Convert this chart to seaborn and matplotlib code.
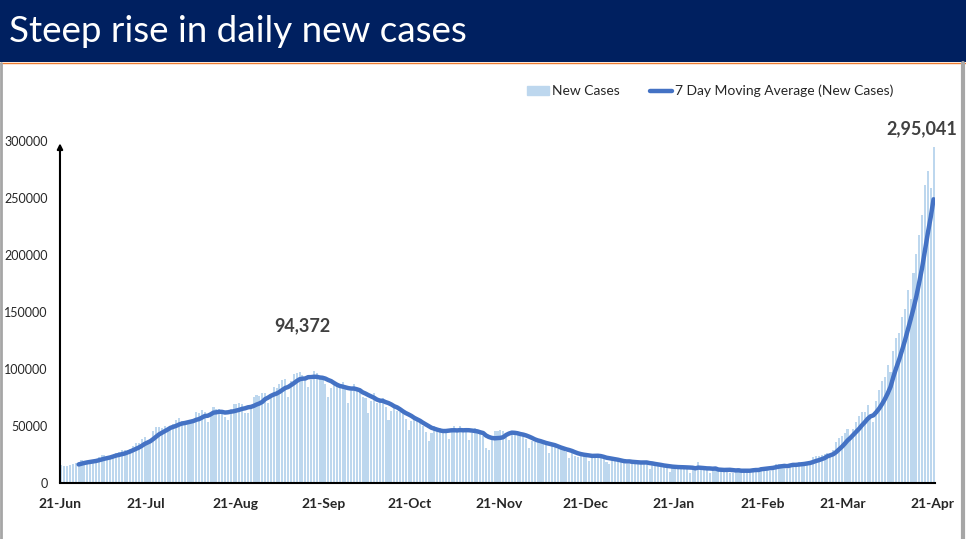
import numpy as np
import pandas as pd
import seaborn as sns
import matplotlib
matplotlib.use("Agg")
import matplotlib.pyplot as plt
from matplotlib.patches import Rectangle
from matplotlib.lines import Line2D

# Daily new cases, 21-Jun-2020 .. 21-Apr-2021
jun = [15413, 14821, 14933, 15968, 16922, 17296, 18552, 19906, 19459, 18522]
jul = [18653, 19148, 20903, 22771, 24850, 24248, 22252, 22752, 24879, 26506,
       27114, 28637, 28701, 28498, 29429, 32695, 34956, 34884, 38902, 40425,
       37148, 37724, 45720, 49310, 48916, 48661, 49931, 47703, 48513, 52123,
       55079]
aug = [57118, 54735, 52972, 52050, 52509, 56282, 62538, 61537, 64399, 62064,
       53601, 60963, 66999, 64553, 65002, 63490, 57981, 55079, 64531, 69652,
       68898, 69878, 69239, 61408, 60975, 67151, 75760, 77266, 76472, 78761,
       78512]
sep = [69921, 78357, 83883, 83341, 86432, 90632, 90802, 75809, 89706, 95735,
       96551, 97570, 94372, 92071, 83809, 90123, 97894, 96424, 93337, 92605,
       86961, 75083, 83347, 86508, 86052, 85362, 88600, 82170, 70589, 80472]
oct_ = [86821, 81484, 79476, 75829, 74442, 61267, 72049, 78524, 70496, 73272,
        74383, 66732, 55342, 63509, 67708, 63371, 62212, 61871, 55722, 46790,
        54044, 55838, 54366, 53370, 50129, 45148, 36470, 43893, 49881, 48648,
        48268]
nov = [46963, 45231, 38310, 46253, 50209, 47638, 50356, 45674, 45903, 38073,
       44281, 47905, 44878, 44684, 41100, 30548, 29164, 38617, 45576, 45882,
       46232, 45209, 44059, 37975, 44376, 44489, 43082, 41322, 41810, 38772]
dec = [31118, 36604, 35551, 36595, 36652, 36011, 32981, 26567, 32080, 31522,
       29398, 30006, 30254, 27071, 22065, 26382, 24010, 22890, 25153, 26624,
       24337, 19556, 23950, 24712, 23068, 23067, 22273, 18732, 16432, 20550,
       21822]
jan = [20035, 19078, 18177, 16504, 16375, 18088, 20346, 18139, 18222, 18645,
       16311, 12584, 15968, 16946, 15590, 15158, 15144, 13788, 10064, 13823,
       15223, 14545, 14256, 14849, 13203, 9102, 12689, 11666, 18855, 13083,
       13052]
feb = [11427, 8635, 11039, 12899, 12408, 11713, 12059, 11831, 9110, 9093,
       11067, 12923, 9309, 12194, 11649, 9121, 11610, 12881, 13193, 13993,
       14264, 14199, 10584, 13742, 16738, 16577, 16488, 16752]
mar = [12286, 14989, 17407, 16838, 18327, 18711, 18599, 15388, 17921, 22854,
       23285, 23285, 24882, 25320, 26291, 24492, 28903, 35871, 39726, 40953,
       43846, 46951, 40715, 47262, 53476, 59118, 62258, 62714, 68020, 56211,
       53480]
apr = [72330, 81466, 89129, 93249, 103558, 96982, 115736, 126789, 131968,
       145384, 152879, 168912, 161736, 184372, 200739, 217353, 234692, 261500,
       273810, 259170, 295041]

tick_labels = ["21-Jun", "21-Jul", "21-Aug", "21-Sep", "21-Oct", "21-Nov",
               "21-Dec", "21-Jan", "21-Feb", "21-Mar", "21-Apr"]
y_ticks = [0, 50000, 100000, 150000, 200000, 250000, 300000]

cases = jun + jul + aug + sep + oct_ + nov + dec + jan + feb + mar + apr
dates = pd.date_range("2020-06-21", periods=len(cases), freq="D")
df = pd.DataFrame({"date": dates, "cases": cases})
df["day"] = np.arange(len(df))
df["ma7"] = df["cases"].rolling(7).mean()

sns.set_style("white")
plt.rcParams["font.family"] = ["Lato", "DejaVu Sans"]

fig = plt.figure(figsize=(9.66, 5.39), dpi=100)
ax = fig.add_axes([0.0621, 0.1039, 0.9058, 0.6345])

# barres journalières
sns.barplot(data=df, x="day", y="cases", native_scale=True, color="#BDD7EE",
            saturation=1, width=0.72, linewidth=0, edgecolor="none", ax=ax,
            label="New Cases")
# moyenne mobile
sns.lineplot(data=df, x="day", y="ma7", color="#4472C4", linewidth=3.2,
             ax=ax, label="7 Day Moving Average (New Cases)")

ax.set_xlim(-0.5, len(df) - 0.5)
ax.set_ylim(0, 300000)
ax.set_xlabel("")
ax.set_ylabel("")

# ticks on the 21st of every month (left edge of the day slot)
tick_pos = [p - 0.5 for p in df.index[df["date"].dt.day == 21]]
ax.set_xticks(tick_pos)
ax.set_xticklabels(tick_labels, fontsize=10, fontweight="bold", color="#262626")
ax.set_yticks(y_ticks)
ax.set_yticklabels([str(v) for v in y_ticks], fontsize=9, color="#262626")
ax.tick_params(axis="x", direction="out", length=5, width=1.2, color="black", pad=6)
ax.tick_params(axis="y", length=0, pad=9)

for s in ["top", "right", "left"]:
    ax.spines[s].set_visible(False)
ax.spines["bottom"].set_color("black")
ax.spines["bottom"].set_linewidth(1.5)
ax.annotate("", xy=(-0.5, 298000), xytext=(-0.5, 0), xycoords="data",
            arrowprops=dict(arrowstyle="-|>", color="black", lw=1.5,
                            mutation_scale=8, shrinkA=0, shrinkB=0),
            annotation_clip=False)

# annotations
ax.text(84, 138000, "94,372", ha="center", va="center", fontsize=13,
        fontweight="bold", color="#404040")
ax.text(300, 310500, "2,95,041", ha="center", va="center", fontsize=13,
        fontweight="bold", color="#404040", clip_on=False)

# legend
if ax.get_legend():
    ax.get_legend().remove()
handles = [Rectangle((0, 0), 1, 1, color="#BDD7EE"),
           Line2D([0], [0], color="#4472C4", lw=3.2)]
fig.legend(handles, ["New Cases", "7 Day Moving Average (New Cases)"],
           loc="center", bbox_to_anchor=(0.735, 0.831), ncol=2, frameon=False,
           fontsize=10, handlelength=1.6, handleheight=0.6, columnspacing=2.2,
           handletextpad=0.2, labelcolor="#262626")

# title banner
fig.patches.append(Rectangle((0, 0.885), 1, 0.115, transform=fig.transFigure,
                             facecolor="#002060", edgecolor="none", zorder=0))
fig.add_artist(Line2D([0, 1], [0.884, 0.884], transform=fig.transFigure,
                      color="#ED7D31", lw=1))
fig.text(0.009, 0.941, "Steep rise in daily new cases", color="white",
         fontsize=26.5, ha="left", va="center")

# side borders
fig.add_artist(Line2D([0.001, 0.001], [0, 0.884], transform=fig.transFigure,
                      color="#A6A6A6", lw=2))
fig.add_artist(Line2D([0.997, 0.997], [0, 0.884], transform=fig.transFigure,
                      color="#A6A6A6", lw=3))

fig.savefig("out.png", dpi=100)
